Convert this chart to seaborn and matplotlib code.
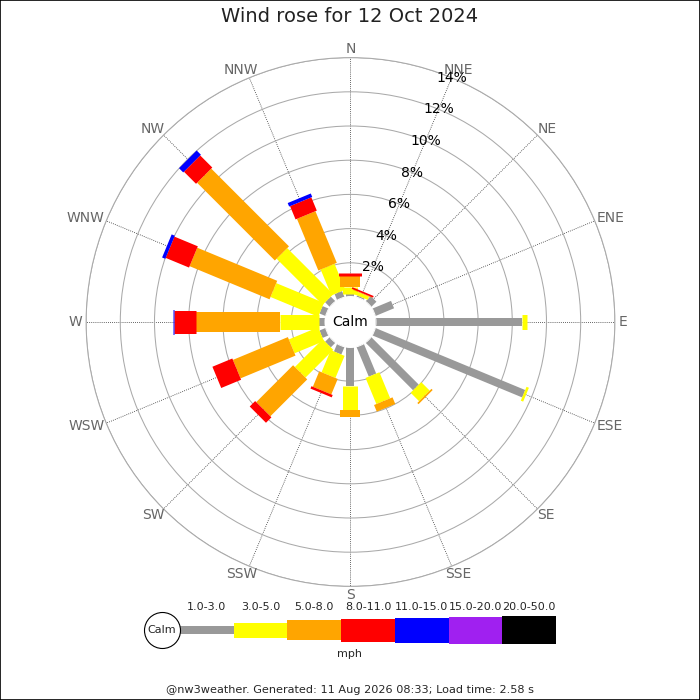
import numpy as np
import matplotlib
matplotlib.use("Agg")
import matplotlib.pyplot as plt
import matplotlib.patches as mpatches
import seaborn as sns

# wind rose data (% of time)
directions = ['N', 'NNE', 'NE', 'ENE', 'E', 'ESE', 'SE', 'SSE',
              'S', 'SSW', 'SW', 'WSW', 'W', 'WNW', 'NW', 'NNW']
speed_bins = ['1.0-3.0', '3.0-5.0', '5.0-8.0', '8.0-11.0', '11.0-15.0', '15.0-20.0', '20.0-50.0']
pct_1_3 = [0.20, 0.12, 0.45, 1.20, 8.58, 9.50, 3.95, 1.90, 2.30, 0.50, 0.40, 0.40, 0.40, 0.40, 0.40, 0.40]
pct_3_5 = [0.36, 0.20, 0.00, 0.00, 0.26, 0.15, 0.70, 1.65, 1.38, 1.40, 2.30, 1.86, 2.26, 3.02, 3.81, 1.64]
pct_5_8 = [0.64, 0.04, 0.00, 0.00, 0.00, 0.00, 0.10, 0.42, 0.43, 0.98, 3.05, 3.48, 4.91, 5.06, 6.43, 3.27]
pct_8_11 = [0.20, 0.10, 0.00, 0.00, 0.00, 0.00, 0.00, 0.00, 0.00, 0.15, 0.45, 1.26, 1.29, 1.48, 1.00, 0.84]
pct_11_15 = [0.00, 0.00, 0.00, 0.00, 0.00, 0.00, 0.00, 0.00, 0.00, 0.00, 0.00, 0.00, 0.08, 0.20, 0.35, 0.22]
pct_15_20 = [0.0] * 16
pct_20_50 = [0.0] * 16
ring_values = [2, 4, 6, 8, 10, 12, 14]

series = [pct_1_3, pct_3_5, pct_5_8, pct_8_11, pct_11_15, pct_15_20, pct_20_50]
colours = ['#999999', '#ffff00', '#ffa500', '#ff0000', '#0000ff', '#a020f0', '#000000']
bar_px = [8, 15, 20, 23, 25, 27, 28]   # bar thickness in pixels per speed class
PT = 0.72                              # points per pixel at dpi 100

sns.set_theme(style='white')
plt.rcParams['font.family'] = ['DejaVu Sans']

fig = plt.figure(figsize=(7, 7), dpi=100)

# polar rose
ax = fig.add_axes([0.1230, 0.1623, 0.7554, 0.7554], projection='polar')
ax.set_theta_zero_location('N')
ax.set_theta_direction(-1)
ax.set_rorigin(-1.462)
ax.set_ylim(0, 14)
angles = np.radians(np.arange(16) * 22.5)

ax.set_xticks(angles)
ax.set_xticklabels([])
ax.set_yticks(ring_values)
ax.set_yticklabels([])
ax.xaxis.grid(True, color='#333333', linestyle=(0, (1, 1.5)), linewidth=0.6)
ax.yaxis.grid(True, color='#aaaaaa', linestyle='-', linewidth=0.75)
ax.spines['polar'].set_color('#aaaaaa')
ax.spines['polar'].set_linewidth(0.75)
ax.spines['inner'].set_color('white')
ax.spines['inner'].set_visible(False)
ax.set_axisbelow(True)

cum = np.zeros(16)
for vals, col, w in zip(series, colours, bar_px):
    vals = np.array(vals)
    for th, r0, v in zip(angles, cum, vals):
        if v > 0:
            ax.plot([th, th], [r0, r0 + v], color=col, linewidth=w * PT,
                    solid_capstyle='butt', zorder=3)
    cum = cum + vals

# white calm disc over the centre
ax.add_patch(mpatches.Circle((0.5, 0.5), 26 / 528.8, transform=ax.transAxes,
                             facecolor='white', edgecolor='none', zorder=6))
ax.text(0.5, 0.5, 'Calm', transform=ax.transAxes, ha='center', va='center',
        fontsize=10, color='black', zorder=7)

# direction labels, shifted outward by half their size
dir_texts = []
for th, name in zip(angles, directions):
    t = ax.annotate(name, xy=(th, 14.21), xytext=(0, 0), textcoords='offset points',
                    ha='center', va='center', fontsize=10, color='#666666',
                    annotation_clip=False)
    dir_texts.append((th, t))
fig.canvas.draw()
renderer = fig.canvas.get_renderer()
for th, t in dir_texts:
    bb = t.get_window_extent(renderer)
    s, c = np.sin(th), np.cos(th)
    t.xyann = (bb.width / 2 * s * PT, (bb.height / 2 - 2) * c * PT)

# percentage labels along NNE
for v in ring_values:
    ax.text(np.radians(22.5), v, f'{v}%', ha='center', va='center',
            fontsize=10, color='black', zorder=5)

# speed legend
lax = fig.add_axes([126.3 / 700, 35 / 700, 429.7 / 700, 70 / 700])
lax.set_xlim(-1, 7)
lax.set_ylim(-35, 35)
lax.axis('off')
for i, (lab, col, h) in enumerate(zip(speed_bins, colours, bar_px)):
    lax.bar(i + 0.5, h, bottom=-h / 2, width=1, color=col, edgecolor='none')
    lax.text(i + 0.5, 23, lab, ha='center', va='center', fontsize=8)
lax.scatter([-0.335], [0], s=(36 * PT) ** 2, facecolor='white', edgecolor='black',
            linewidth=0.8, zorder=4, clip_on=False)
lax.text(-0.335, 0, 'Calm', ha='center', va='center', fontsize=8, zorder=5)

fig.text(0.5, 1 - 654 / 700, 'mph', ha='center', va='center', fontsize=8)
fig.text(0.5, 1 - 17 / 700, 'Wind rose for 12 Oct 2024', ha='center', va='center',
         fontsize=14, color='#222222')
fig.text(0.5, 1 - 690 / 700, '@nw3weather. Generated: 11 Aug 2026 08:33; Load time: 2.58 s',
         ha='center', va='center', fontsize=8.1)

fig.patches.append(mpatches.Rectangle((0, 0), 1, 1, transform=fig.transFigure,
                                      fill=False, edgecolor='black', linewidth=1.2))

fig.savefig('out.png', dpi=100, facecolor='white')
